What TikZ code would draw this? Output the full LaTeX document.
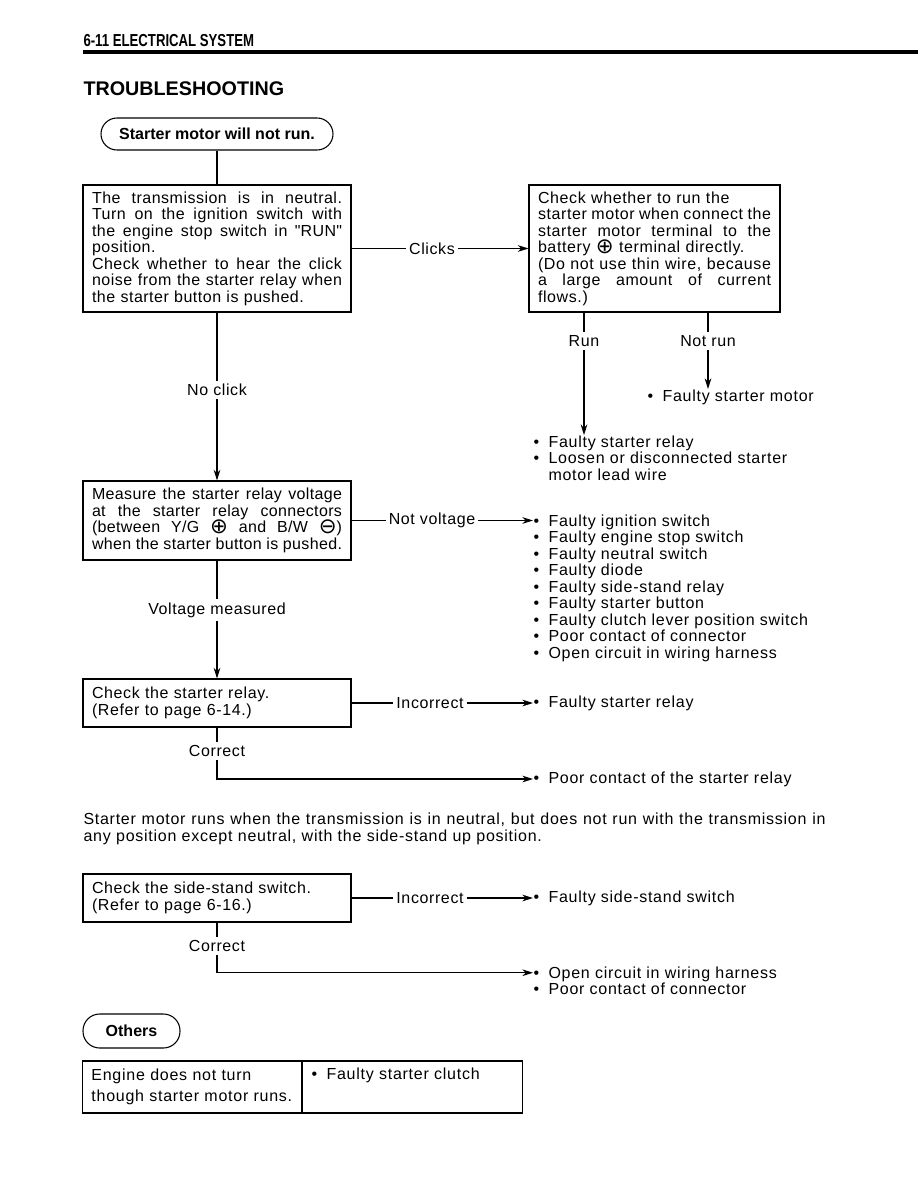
\documentclass[tikz,border=0pt]{standalone}
\usepackage{fontspec}
\setmainfont[LetterSpace=3.8]{Liberation Sans}
\newfontfamily\lfont[LetterSpace=4.6]{Liberation Sans}
\newfontfamily\mfont[LetterSpace=3.1]{Liberation Sans}
\newfontfamily\tfont[LetterSpace=2.2]{Liberation Sans}
\newfontfamily\hbold{Liberation Sans}
\newfontfamily\hdfont[FakeStretch=0.76]{Liberation Sans}
\newfontfamily\symfont{DejaVu Sans}
\usetikzlibrary{arrows.meta}
\newcommand{\jl}[1]{{\spaceskip=0pt\xspaceskip=0pt\makebox[\hsize][s]{#1}}}
\newcommand{\bul}{\makebox[11.25pt][l]{\textbullet}}
\newcommand{\pl}{\smash{\raisebox{-0.6pt}{\symfont\fontsize{16}{16}\selectfont ⊕}}}
\newcommand{\mn}{\smash{\raisebox{-0.6pt}{\symfont\fontsize{16}{16}\selectfont ⊖}}}

\begin{document}
\begin{tikzpicture}[x=0.75pt, y=-0.75pt, line width=0.8pt,
  every node/.style={font=\fontsize{12}{12.4}\selectfont}]
 \tikzstyle{rect}=[draw, align=left, inner xsep=6.75pt, inner ysep=0pt]
 \tikzstyle{pill}=[draw, rounded corners=12pt, font=\hbold\fontsize{12}{12.4}\selectfont\bfseries]
 \tikzstyle{lbl}=[inner sep=2pt]
 \tikzstyle{lst}=[anchor=west, align=left, inner sep=0pt, font=\lfont\fontsize{12}{12.4}\selectfont]
 \tikzstyle{arro}=[-{Stealth[length=8pt, width=5pt]}]
 \useasboundingbox (0,0) rectangle (918,1188);
 %
 \node[anchor=west, inner sep=0pt, font=\hdfont\fontsize{13}{13}\selectfont\bfseries] (H) at (83,41) {6-11 ELECTRICAL SYSTEM};
 \draw[line width=2.4pt] (83,52) -- (918,52);
 \node[anchor=west, inner sep=0pt, font=\hbold\fontsize{14.8}{15}\selectfont\bfseries] (T) at (83,89) {TROUBLESHOOTING};
 %
 \node[pill, minimum width=174pt, minimum height=24pt] (S) at (217,134) {Starter motor will not run.};
 \node[rect, text width=187.5pt, minimum height=95.25pt, font=\mfont\fontsize{12}{12.4}\selectfont] (B1) at (217,248.5) {\jl{The transmission is in neutral.}\\ \jl{Turn on the ignition switch with}\\ \jl{the engine stop switch in \textquotedbl RUN\textquotedbl}\\ position.\\ \jl{Check whether to hear the click}\\ \jl{noise from the starter relay when}\\ the starter button is pushed.};
 \node[rect, text width=174.75pt, minimum height=95.25pt] (B2) at (654.5,248.5) {Check whether to run the\\ \jl{starter motor when connect the}\\ \jl{starter motor terminal to the}\\ battery \pl{} terminal directly.\\ \jl{(Do not use thin wire, because}\\ \jl{a large amount of current}\\ flows.)};
 \draw (S) -- (B1);
 %
 \node[lbl] (C1) at (432,248.5) {Clicks};
 \draw (B1) -- (C1);
 \draw[arro] (C1) -- (B2);
 %
 \node[lbl] (R1) at (584,341) {Run};
 \node[lbl] (R2) at (708,341) {Not run};
 \node[lst] (L1) at (533,458) {\bul Faulty starter relay\\ \bul Loosen or disconnected starter\\ \hspace*{11.25pt}motor lead wire};
 \node[lst] (L2) at (647,397) {\bul Faulty starter motor};
 \draw (B2.south -| R1) -- (R1);
 \draw (B2.south -| R2) -- (R2);
 \draw[arro] (R1) -- (R1 |- L1.north);
 \draw[arro] (R2) -- (R2 |- L2.north);
 %
 \node[rect, text width=187.5pt, minimum height=59.25pt, font=\tfont\fontsize{12}{12.4}\selectfont] (B3) at (217,520.5) {\jl{Measure the starter relay voltage}\\ \jl{at the starter relay connectors}\\ \jl{(between Y/G \pl{} and B/W \mn{})}\\ \jl{when the starter button is pushed.}};
 \node[lbl] (N1) at (217,390) {No click};
 \draw (B1) -- (N1);
 \draw[arro] (N1) -- (B3);
 %
 \node[lbl] (V1) at (432,520.5) {Not voltage};
 \node[lst] (L3) at (533,588) {\bul Faulty ignition switch\\ \bul Faulty engine stop switch\\ \bul Faulty neutral switch\\ \bul Faulty diode\\ \bul Faulty side-stand relay\\ \bul Faulty starter button\\ \bul Faulty clutch lever position switch\\ \bul Poor contact of connector\\ \bul Open circuit in wiring harness};
 \draw (B3) -- (V1);
 \draw[arro] (V1) -- (V1 -| L3.west);
 %
 \node[rect, text width=187.5pt, minimum height=36pt] (B4) at (217,703) {Check the starter relay.\\ (Refer to page 6-14.)};
 \node[lbl] (V2) at (217,610) {Voltage measured};
 \draw (B3) -- (V2);
 \draw[arro] (V2) -- (B4);
 %
 \node[lbl] (I1) at (430,703) {Incorrect};
 \node[lst] (L4) at (533,703) {\bul Faulty starter relay};
 \draw (B4) -- (I1);
 \draw[arro] (I1) -- (I1 -| L4.west);
 \node[lbl] (K1) at (217,751) {Correct};
 \node[lst] (L5) at (533,779) {\bul Poor contact of the starter relay};
 \draw (B4) -- (K1);
 \draw[arro] (K1) |- (L5);
 %
 \node[anchor=west, inner sep=0pt, text width=556.5pt, align=left, font=\lfont\fontsize{12}{12.6}\selectfont] (P) at (83,828.5) {\jl{Starter motor runs when the transmission is in neutral, but does not run with the transmission in}\\ any position except neutral, with the side-stand up position.};
 %
 \node[rect, text width=187.5pt, minimum height=36pt] (B5) at (217,898) {Check the side-stand switch.\\ (Refer to page 6-16.)};
 \node[lbl] (I2) at (430,898) {Incorrect};
 \node[lst] (L6) at (533,898) {\bul Faulty side-stand switch};
 \draw (B5) -- (I2);
 \draw[arro] (I2) -- (I2 -| L6.west);
 \node[lbl] (K2) at (217,946) {Correct};
 \node[lst] (L7) at (533,981) {\bul Open circuit in wiring harness\\ \bul Poor contact of connector};
 \draw (B5) -- (K2);
 \draw[arro] (K2) |- ([yshift=6.2pt]L7.west);
 %
 \node[pill, minimum width=72.75pt, minimum height=25.5pt, rounded corners=12.5pt] (O) at (131.5,1031) {Others};
 \node[rect, anchor=east, text width=150.75pt, minimum height=39pt, font=\lfont\fontsize{12}{12.4}\selectfont] (E1) at (302,1087) {Engine does not turn\\[3.3pt] though starter motor runs.};
 \node[rect, anchor=west, text width=151.5pt, minimum height=39pt, font=\lfont\fontsize{12}{12.4}\selectfont] (E2) at (E1.east) {\bul Faulty starter clutch\\[3.3pt] \strut};
\end{tikzpicture}
\end{document}
